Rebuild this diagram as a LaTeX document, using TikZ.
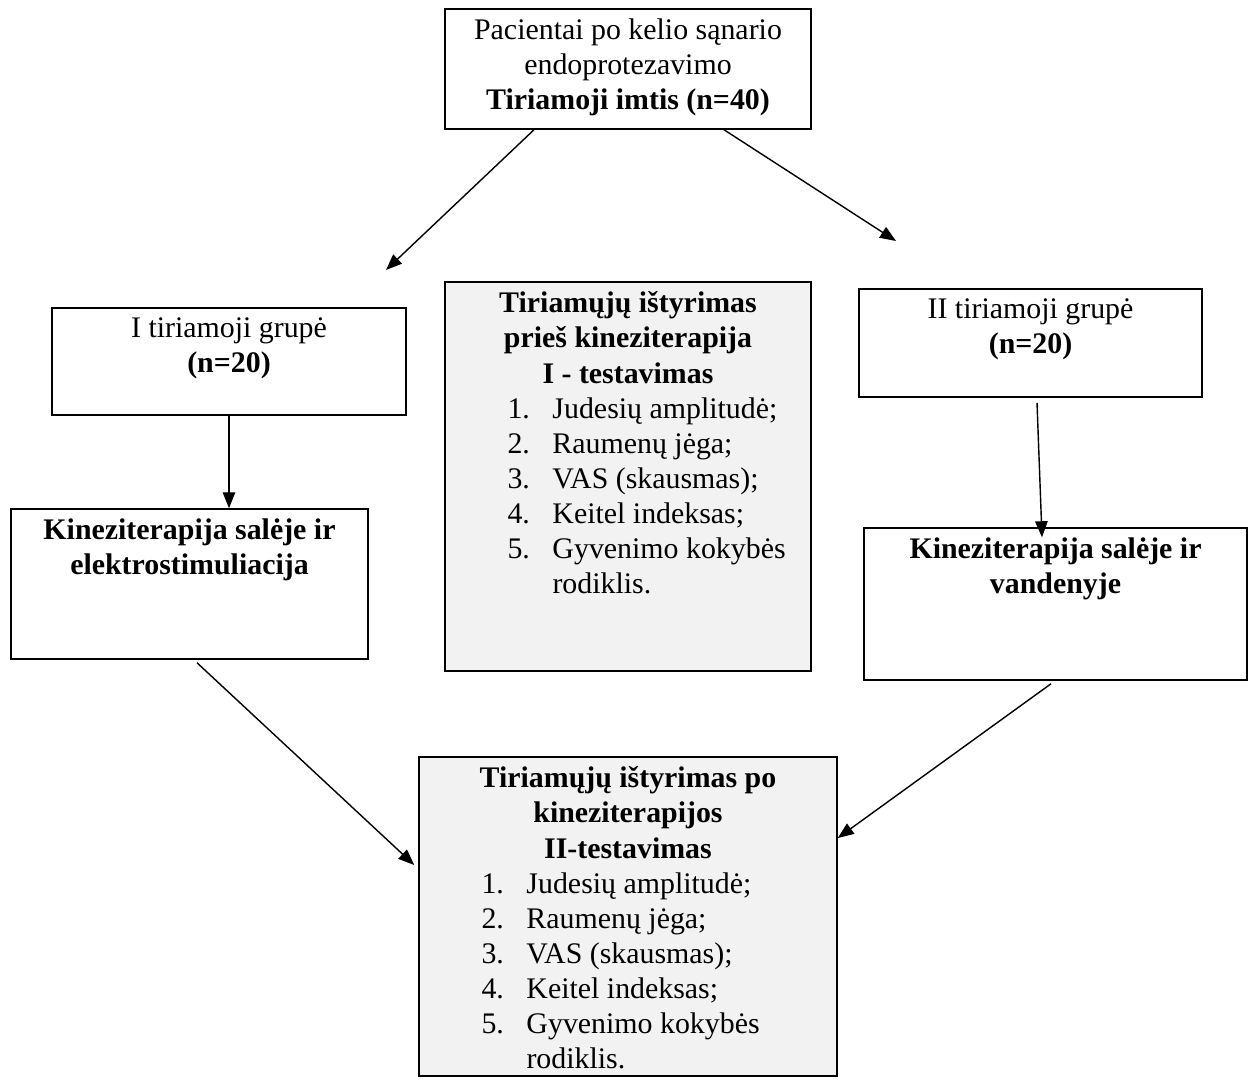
\documentclass[tikz,border=0pt]{standalone}
\usepackage{fontspec}
\setmainfont{Liberation Serif}
\usetikzlibrary{arrows.meta}
\definecolor{testgray}{HTML}{F2F2F2}
\tikzstyle{plainbox} = [rectangle, draw=black, line width=0.85pt, inner sep=0pt, fill=white]
\tikzstyle{testbox} = [rectangle, draw=black, line width=0.85pt, inner sep=0pt, fill=testgray]
\newcommand{\boxtxt}[3]{\begin{minipage}[t][#2][t]{#1}\vspace*{5.5pt}\centering #3\end{minipage}}
\newcommand{\testitem}[2]{\par\hspace*{1.25cm}\makebox[0.9cm][l]{#1}#2}

\begin{document}
\begin{tikzpicture}[>={Triangle[length=0.32cm,width=0.25cm]}, line width=0.8pt,
    every node/.style={font=\fontsize{17}{20}\selectfont}]
    \useasboundingbox (0,0) rectangle (25.04,-21.76);

    \node(top)[plainbox] at (12.56,-1.38) {\boxtxt{7.32cm}{2.40cm}{Pacientai po kelio sąnario\\ endoprotezavimo\\ \textbf{Tiriamoji imtis (n=40)}}};

    \node(group1)[plainbox] at (4.58,-7.23) {\boxtxt{7.08cm}{2.14cm}{I tiriamoji grupė\\ \textbf{(n=20)}}};
    \node(group2)[plainbox] at (20.61,-6.86) {\boxtxt{6.86cm}{2.16cm}{II tiriamoji grupė\\ \textbf{(n=20)}}};

    \node(therapy1)[plainbox] at (3.79,-11.68) {\boxtxt{7.14cm}{3.00cm}{\textbf{Kineziterapija salėje ir\\ elektrostimuliacija}}};
    \node(therapy2)[plainbox] at (21.11,-12.08) {\boxtxt{7.66cm}{3.04cm}{\textbf{Kineziterapija salėje ir\\ vandenyje}}};

    \node(test1)[testbox] at (12.56,-9.53) {\boxtxt{7.32cm}{7.78cm}{\textbf{Tiriamųjų ištyrimas\\ prieš kineziterapija\\ I - testavimas}\par\raggedright
        \testitem{1.}{Judesių amplitudė;}
        \testitem{2.}{Raumenų jėga;}
        \testitem{3.}{VAS (skausmas);}
        \testitem{4.}{Keitel indeksas;}
        \testitem{5.}{Gyvenimo kokybės}
        \testitem{}{rodiklis.}}};

    \node(test2)[testbox] at (12.56,-18.33) {\boxtxt{8.36cm}{6.38cm}{\textbf{Tiriamųjų ištyrimas po\\ kineziterapijos\\ II-testavimas}\par\raggedright
        \testitem{1.}{Judesių amplitudė;}
        \testitem{2.}{Raumenų jėga;}
        \testitem{3.}{VAS (skausmas);}
        \testitem{4.}{Keitel indeksas;}
        \testitem{5.}{Gyvenimo kokybės}
        \testitem{}{rodiklis.}}};

    \coordinate (lefttip) at (7.72,-5.40);
    \coordinate (righttip) at (17.92,-4.82);

    \draw[->] ([xshift=-1.88cm]top.south) -- (lefttip);
    \draw[->] ([xshift=1.92cm]top.south) -- (righttip);
    \draw[->] (group1.south) -- (group1.south |- therapy1.north);
    \draw[->] ([xshift=0.13cm,yshift=-0.1cm]group2.south) -- ([xshift=-0.27cm,yshift=-0.2cm]therapy2.north);
    \draw[->] ([xshift=0.15cm,yshift=-0.06cm]therapy1.south) -- ([xshift=-0.08cm,yshift=1.03cm]test2.west);
    \draw[->] ([xshift=-0.09cm,yshift=-0.06cm]therapy2.south) -- ([yshift=1.57cm]test2.east);

\end{tikzpicture}
\end{document}
